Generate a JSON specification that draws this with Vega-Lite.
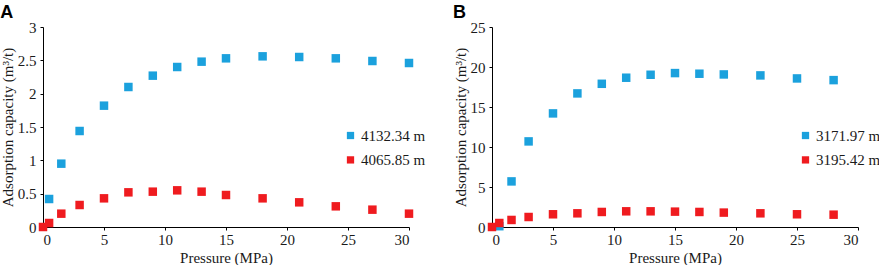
{
  "$schema": "https://vega.github.io/schema/vega-lite/v6.json",
  "background": "white",
  "bounds": "flush",
  "padding": {"left": 0, "top": 4, "right": 0, "bottom": 0},
  "spacing": 83,
  "config": {
    "view": {"stroke": null},
    "font": "Liberation Serif",
    "axis": {
      "labelFont": "Liberation Serif",
      "titleFont": "Liberation Serif",
      "labelFontSize": 15,
      "titleFontSize": 15,
      "titleFontWeight": "normal",
      "labelColor": "#1a1a1a",
      "titleColor": "#1a1a1a",
      "domainColor": "#000",
      "tickColor": "#000",
      "tickSize": 3,
      "grid": false
    },
    "axisX": {"labelPadding": 2, "titlePadding": 3},
    "axisY": {"labelPadding": 4, "titlePadding": 2},
    "legend": {
      "labelFont": "Liberation Serif",
      "labelFontSize": 15,
      "labelColor": "#1a1a1a",
      "symbolType": "square",
      "symbolSize": 53,
      "symbolStrokeWidth": 0,
      "labelOffset": 3,
      "rowPadding": 8.4,
      "padding": 0
    },
    "title": {
      "font": "Liberation Sans",
      "fontSize": 18,
      "fontWeight": "bold",
      "anchor": "start",
      "frame": "bounds",
      "color": "#000",
      "offset": -2
    }
  },
  "datasets": {
    "a": [
      {"p": 0.5, "v": 0.42, "s": "4132.34 m"},
      {"p": 1.5, "v": 0.95, "s": "4132.34 m"},
      {"p": 3, "v": 1.44, "s": "4132.34 m"},
      {"p": 5, "v": 1.82, "s": "4132.34 m"},
      {"p": 7, "v": 2.1, "s": "4132.34 m"},
      {"p": 9, "v": 2.27, "s": "4132.34 m"},
      {"p": 11, "v": 2.4, "s": "4132.34 m"},
      {"p": 13, "v": 2.48, "s": "4132.34 m"},
      {"p": 15, "v": 2.53, "s": "4132.34 m"},
      {"p": 18, "v": 2.56, "s": "4132.34 m"},
      {"p": 21, "v": 2.55, "s": "4132.34 m"},
      {"p": 24, "v": 2.53, "s": "4132.34 m"},
      {"p": 27, "v": 2.49, "s": "4132.34 m"},
      {"p": 30, "v": 2.46, "s": "4132.34 m"},
      {"p": 0, "v": 0.0, "s": "4065.85 m"},
      {"p": 0.5, "v": 0.06, "s": "4065.85 m"},
      {"p": 1.5, "v": 0.2, "s": "4065.85 m"},
      {"p": 3, "v": 0.33, "s": "4065.85 m"},
      {"p": 5, "v": 0.43, "s": "4065.85 m"},
      {"p": 7, "v": 0.52, "s": "4065.85 m"},
      {"p": 9, "v": 0.53, "s": "4065.85 m"},
      {"p": 11, "v": 0.55, "s": "4065.85 m"},
      {"p": 13, "v": 0.53, "s": "4065.85 m"},
      {"p": 15, "v": 0.48, "s": "4065.85 m"},
      {"p": 18, "v": 0.43, "s": "4065.85 m"},
      {"p": 21, "v": 0.37, "s": "4065.85 m"},
      {"p": 24, "v": 0.31, "s": "4065.85 m"},
      {"p": 27, "v": 0.26, "s": "4065.85 m"},
      {"p": 30, "v": 0.2, "s": "4065.85 m"}
    ],
    "b": [
      {"p": 0.6, "v": 0.1, "s": "3171.97 m"},
      {"p": 1.6, "v": 5.7, "s": "3171.97 m"},
      {"p": 3, "v": 10.7, "s": "3171.97 m"},
      {"p": 5, "v": 14.2, "s": "3171.97 m"},
      {"p": 7, "v": 16.7, "s": "3171.97 m"},
      {"p": 9, "v": 17.9, "s": "3171.97 m"},
      {"p": 11, "v": 18.66, "s": "3171.97 m"},
      {"p": 13, "v": 19.03, "s": "3171.97 m"},
      {"p": 15, "v": 19.24, "s": "3171.97 m"},
      {"p": 17, "v": 19.16, "s": "3171.97 m"},
      {"p": 19, "v": 19.07, "s": "3171.97 m"},
      {"p": 22, "v": 18.95, "s": "3171.97 m"},
      {"p": 25, "v": 18.57, "s": "3171.97 m"},
      {"p": 28, "v": 18.36, "s": "3171.97 m"},
      {"p": 0, "v": 0.0, "s": "3195.42 m"},
      {"p": 0.6, "v": 0.5, "s": "3195.42 m"},
      {"p": 1.6, "v": 0.88, "s": "3195.42 m"},
      {"p": 3, "v": 1.25, "s": "3195.42 m"},
      {"p": 5, "v": 1.59, "s": "3195.42 m"},
      {"p": 7, "v": 1.71, "s": "3195.42 m"},
      {"p": 9, "v": 1.88, "s": "3195.42 m"},
      {"p": 11, "v": 1.96, "s": "3195.42 m"},
      {"p": 13, "v": 1.96, "s": "3195.42 m"},
      {"p": 15, "v": 1.92, "s": "3195.42 m"},
      {"p": 17, "v": 1.88, "s": "3195.42 m"},
      {"p": 19, "v": 1.8, "s": "3195.42 m"},
      {"p": 22, "v": 1.71, "s": "3195.42 m"},
      {"p": 25, "v": 1.59, "s": "3195.42 m"},
      {"p": 28, "v": 1.54, "s": "3195.42 m"}
    ]
  },
  "hconcat": [
    {
      "title": {"text": "A"},
      "width": 366,
      "height": 200,
      "data": {"name": "a"},
      "mark": {"type": "point", "shape": "square", "filled": true, "size": 72, "opacity": 1},
      "encoding": {
        "x": {
          "field": "p", "type": "quantitative",
          "scale": {"domain": [0, 30], "nice": false},
          "axis": {"values": [0, 5, 10, 15, 20, 25, 30], "title": "Pressure (MPa)", "format": "~g"}
        },
        "y": {
          "field": "v", "type": "quantitative",
          "scale": {"domain": [0, 3], "nice": false},
          "axis": {"values": [0, 0.5, 1, 1.5, 2, 2.5, 3], "title": "Adsorption capacity (m³/t)", "format": "~g"}
        },
        "color": {
          "field": "s", "type": "nominal",
          "scale": {"domain": ["4132.34 m", "4065.85 m"], "range": ["#1ba1dd", "#ef1b1f"]},
          "sort": null,
          "legend": {"title": null, "orient": "none", "legendX": 300, "legendY": 101}
        }
      }
    },
    {
      "title": {"text": "B"},
      "width": 366,
      "height": 200,
      "data": {"name": "b"},
      "mark": {"type": "point", "shape": "square", "filled": true, "size": 72, "opacity": 1},
      "encoding": {
        "x": {
          "field": "p", "type": "quantitative",
          "scale": {"domain": [0, 30], "nice": false},
          "axis": {"values": [0, 5, 10, 15, 20, 25, 30], "title": "Pressure (MPa)", "format": "~g"}
        },
        "y": {
          "field": "v", "type": "quantitative",
          "scale": {"domain": [0, 25], "nice": false},
          "axis": {"values": [0, 5, 10, 15, 20, 25], "title": "Adsorption capacity (m³/t)", "format": "~g"}
        },
        "color": {
          "field": "s", "type": "nominal",
          "scale": {"domain": ["3171.97 m", "3195.42 m"], "range": ["#1ba1dd", "#ef1b1f"]},
          "sort": null,
          "legend": {"title": null, "orient": "none", "legendX": 306, "legendY": 101}
        }
      }
    }
  ],
  "resolve": {"scale": {"color": "independent"}, "legend": {"color": "independent"}}
}
